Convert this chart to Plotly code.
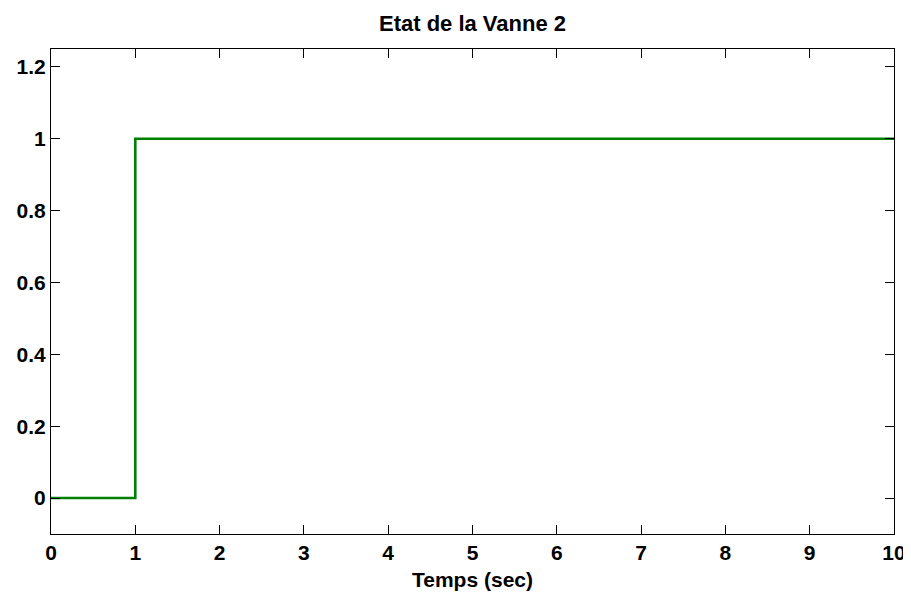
import plotly.graph_objects as go

# step signal: valve 2 opens at t = 1 s
temps = [0, 1, 1, 10]
etat = [0, 0, 1, 1]

x_ticks = [0, 1, 2, 3, 4, 5, 6, 7, 8, 9, 10]
y_ticks = [0, 0.2, 0.4, 0.6, 0.8, 1, 1.2]
y_labels = ['0', '0.2', '0.4', '0.6', '0.8', '1', '1.2']

fig = go.Figure()
fig.add_trace(go.Scatter(
    x=temps, y=etat, mode='lines',
    line=dict(color='#008000', width=2.6),
    showlegend=False,
))

axis_common = dict(
    showgrid=False, zeroline=False, automargin=False,
    showline=True, linecolor='black', linewidth=1.2, mirror='ticks',
    ticks='inside', ticklen=9, tickwidth=1, tickcolor='black',
    tickfont=dict(family='Liberation Sans', size=21, color='black', weight='bold'),
)

# page body has an 8px margin, so the figure is a bit smaller than the window
fig.update_layout(
    width=903, height=588,
    paper_bgcolor='white', plot_bgcolor='white',
    margin=dict(l=43, r=17, t=41, b=62),
    title=dict(
        text='<b>Etat de la Vanne 2</b>', x=0.5, xanchor='center',
        xref='paper', y=0.974, yanchor='middle',
        font=dict(family='Liberation Sans', size=22, color='black'),
    ),
    xaxis=dict(
        range=[0, 10], tickvals=x_ticks,
        title=dict(text='<b>Temps (sec)</b>', standoff=9,
                   font=dict(family='Liberation Sans', size=21, color='black')),
        **axis_common,
    ),
    yaxis=dict(
        range=[-0.1, 1.25], tickvals=y_ticks, ticktext=y_labels,
        **axis_common,
    ),
)

fig.write_html('out.html')
